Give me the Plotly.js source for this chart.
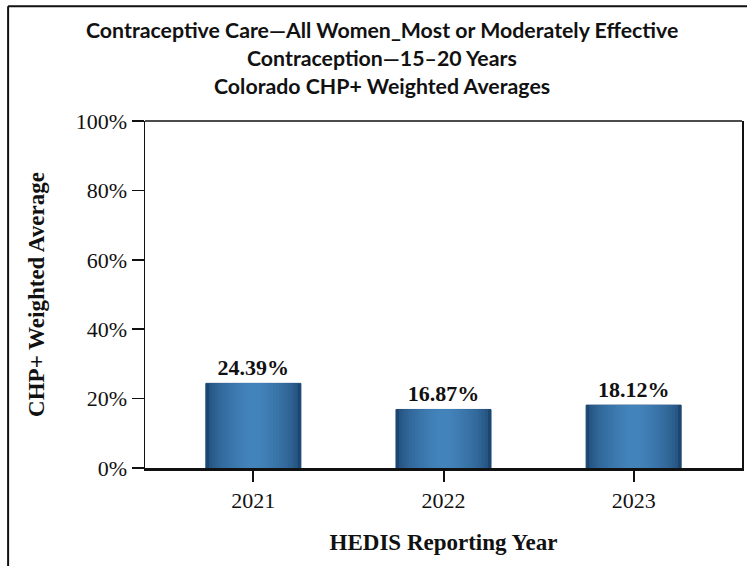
<!DOCTYPE html>
<html>
<head>
<meta charset="utf-8">
<script src="https://cdn.plot.ly/plotly-3.0.1.min.js"></script>
<style>
  html, body { margin: 0; padding: 0; background: #fff; }
  #chart { width: 747px; height: 566px; }
</style>
</head>
<body>
<div id="chart"></div>
<script>
// Reporting years and Colorado CHP+ weighted averages (%)
const years = ['2021', '2022', '2023'];
const rates = [24.39, 16.87, 18.12];
const yTickVals = [0, 20, 40, 60, 80, 100];
const yTickText = ['0%', '20%', '40%', '60%', '80%', '100%'];

const titleLines = [
  'Contraceptive Care\u2014All Women_Most or Moderately Effective',
  'Contraception\u201415\u201320 Years',
  'Colorado CHP+ Weighted Averages'
];

const serif = 'Liberation Serif, Times New Roman, serif';

// Cylinder-like shading: stack narrower, lighter copies of each bar
const dark = [28, 70, 112];
const light = [67, 131, 187];
const layers = 14;
const fullWidth = 0.5;
function mix(t) {
  const c = dark.map((d, k) => Math.round(d + (light[k] - d) * t));
  return 'rgb(' + c.join(',') + ')';
}

const traces = [];
for (let i = 0; i < layers; i++) {
  const f = i / (layers - 1);
  const t = Math.sqrt(f);
  const w = fullWidth * (1 - 0.85 * f);
  const trace = {
    type: 'bar',
    x: years,
    y: rates,
    width: years.map(() => w),
    marker: {
      color: mix(t),
      line: { width: i === 0 ? 1 : 0, color: '#1d4a75' }
    },
    hoverinfo: 'skip',
    showlegend: false,
    cliponaxis: false
  };
  if (i === 0) {
    trace.text = rates.map(v => '<b>' + v.toFixed(2) + '%</b>');
    trace.textposition = 'outside';
    trace.textfont = { family: serif, size: 22, color: '#111' };
  }
  traces.push(trace);
}

// Title block: three centred bold lines above the plot box
const titleY = [1.2622, 1.1816, 1.1009];
const titleAnnotations = titleLines.map((s, i) => ({
  text: '<b>' + s + '</b>',
  xref: 'paper', yref: 'paper',
  x: 0.3975, y: titleY[i],
  xanchor: 'center', yanchor: 'middle',
  showarrow: false,
  font: { family: 'Lato, Carlito, Calibri, sans-serif', size: 21.3, color: '#111' }
}));

const layout = {
  width: 747,
  height: 566,
  margin: { l: 145, r: 4.5, t: 121, b: 98 },
  paper_bgcolor: '#fff',
  plot_bgcolor: '#fff',
  barmode: 'overlay',
  annotations: titleAnnotations,
  xaxis: {
    type: 'category',
    range: [-0.57, 2.57],
    showline: true,
    linewidth: 3,
    linecolor: '#111',
    ticks: 'outside',
    ticklen: 11,
    tickwidth: 2,
    tickcolor: '#111',
    tickfont: { family: serif, size: 22, color: '#111' },
    showgrid: false,
    zeroline: false,
    title: {
      text: '<b>HEDIS Reporting Year</b>',
      font: { family: serif, size: 23, color: '#111' },
      standoff: 22
    }
  },
  yaxis: {
    range: [0, 100],
    tickvals: yTickVals,
    ticktext: yTickText,
    showline: true,
    mirror: true,
    linewidth: 1.5,
    linecolor: '#111',
    ticks: 'outside',
    ticklen: 12,
    tickwidth: 1.5,
    tickcolor: '#111',
    tickfont: { family: serif, size: 22, color: '#111' },
    showgrid: false,
    zeroline: false,
    title: {
      text: '<b>CHP+ Weighted Average</b>',
      font: { family: serif, size: 23, color: '#111' },
      standoff: 24
    }
  },
  shapes: [
    // top edge of the plot box
    { type: 'line', xref: 'paper', yref: 'paper', x0: 0, x1: 1, y0: 1, y1: 1,
      line: { color: '#111', width: 1.5 } },
    // outer frame around the figure
    { type: 'line', xref: 'paper', yref: 'paper', x0: -0.2293, x1: -0.2293, y0: -0.3, y1: 1.331,
      line: { color: '#111', width: 2 } },
    { type: 'line', xref: 'paper', yref: 'paper', x0: -0.2293, x1: 1.05, y0: 1.331, y1: 1.331,
      line: { color: '#111', width: 2 } }
  ]
};

Plotly.newPlot('chart', traces, layout, { displayModeBar: false, staticPlot: true });
</script>
</body>
</html>
